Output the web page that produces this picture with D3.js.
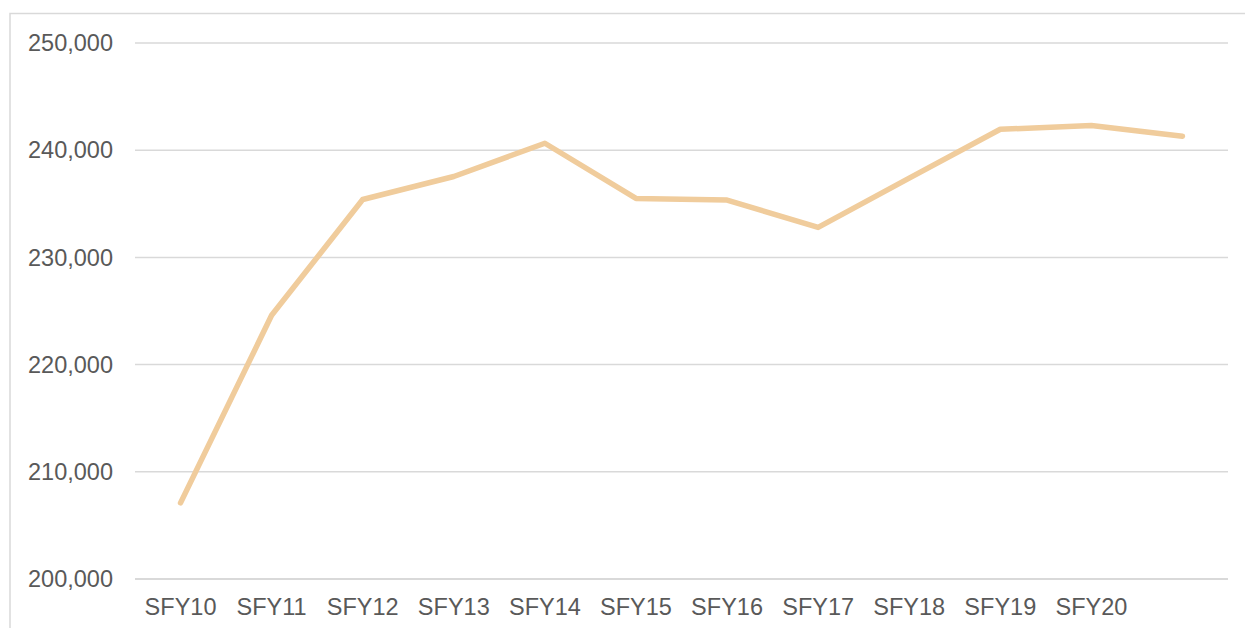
<!DOCTYPE html>
<html>
<head>
<meta charset="utf-8">
<script src="https://cdn.jsdelivr.net/npm/d3@7"></script>
<style>
  body { margin: 0; background: #fff; }
  text { font-family: "Liberation Sans", Arial, sans-serif; }
</style>
</head>
<body>
<div id="chart"></div>
<script>
// chart data
const years = ["SFY10", "SFY11", "SFY12", "SFY13", "SFY14", "SFY15", "SFY16", "SFY17", "SFY18", "SFY19", "SFY20", ""];
const values = [207100, 224600, 235400, 237550, 240650, 235500, 235350, 232800, 237400, 241950, 242300, 241300];
const yTicks = [200000, 210000, 220000, 230000, 240000, 250000];

const width = 1245;
const height = 628;
const margin = { top: 43, right: 17, bottom: 49, left: 135 };

const svg = d3.select("#chart")
  .append("svg")
  .attr("width", width)
  .attr("height", height);

// outer frame
svg.append("path")
  .attr("d", `M10,${height + 2} L10,13.5 L${width + 2},13.5`)
  .attr("fill", "none")
  .attr("stroke", "#d9d9d9")
  .attr("stroke-width", 1.5);

const x = d3.scaleBand()
  .domain(d3.range(years.length))
  .range([margin.left, width - margin.right]);

const y = d3.scaleLinear()
  .domain([200000, 250000])
  .range([height - margin.bottom, margin.top]);

// gridlines
svg.append("g")
  .selectAll("line")
  .data(yTicks)
  .enter()
  .append("line")
  .attr("x1", margin.left)
  .attr("x2", width - margin.right)
  .attr("y1", d => y(d))
  .attr("y2", d => y(d))
  .attr("stroke", "#d9d9d9")
  .attr("stroke-width", d => d === 200000 ? 2.2 : 1.5);

// y labels
const fmt = d3.format(",");
svg.append("g")
  .selectAll("text")
  .data(yTicks)
  .enter()
  .append("text")
  .attr("x", 113)
  .attr("y", d => y(d))
  .attr("dy", "0.35em")
  .attr("text-anchor", "end")
  .style("font-size", "23.5px")
  .style("fill", "#595959")
  .text(d => fmt(d));

// x labels
svg.append("g")
  .selectAll("text")
  .data(years)
  .enter()
  .append("text")
  .attr("x", (d, i) => x(i) + x.bandwidth() / 2)
  .attr("y", 615)
  .attr("text-anchor", "middle")
  .style("font-size", "23.5px")
  .style("fill", "#595959")
  .text(d => d);

// line
const line = d3.line()
  .x((d, i) => x(i) + x.bandwidth() / 2)
  .y(d => y(d));

svg.append("path")
  .datum(values)
  .attr("d", line)
  .attr("fill", "none")
  .attr("stroke", "#f0cc9c")
  .attr("stroke-width", 5.5)
  .attr("stroke-linecap", "round")
  .attr("stroke-linejoin", "round");
</script>
</body>
</html>
